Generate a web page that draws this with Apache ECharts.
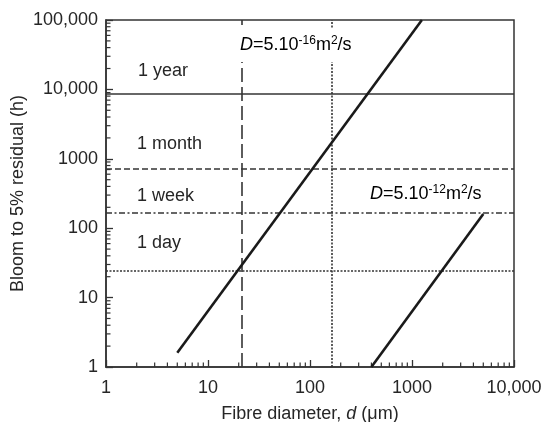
<!DOCTYPE html>
<html><head><meta charset="utf-8">
<script src="https://cdn.jsdelivr.net/npm/echarts@6/dist/echarts.min.js"></script>
<style>html,body{margin:0;padding:0;background:#fff}#c{width:542px;height:422px}</style>
</head><body><div id="c"></div>
<script>
// ---- data ----
const lineLowD = [[5, 1.6], [1250, 100000]];      // D = 5e-16 m2/s
const lineHighD = [[400, 1], [5000, 160]];        // D = 5e-12 m2/s
const refHours = [8760, 720, 168, 24];            // 1 year, 1 month, 1 week, 1 day
const refHourLabels = ['1 year', '1 month', '1 week', '1 day'];
const refDiameters = [21.4, 165];
const xTickValues = [1, 10, 100, 1000, 10000];
const xTickLabels = ['1', '10', '100', '1000', '10,000'];
const yTickValues = [1, 10, 100, 1000, 10000, 100000];
const yTickLabels = ['1', '10', '100', '1000', '10,000', '100,000'];
const minorMults = [2, 3, 4, 5, 6, 7, 8, 9];

const FONT = 'Liberation Sans, Arial, sans-serif';
const TXT = '#262626';
const REF = '#353535';
const FS = 18;

function minorList(decades) {
  const out = [];
  decades.slice(0, -1).forEach(d => minorMults.forEach(m => out.push(d * m)));
  return out;
}
const xMinor = minorList(xTickValues).map(v => [v]);
const yMinor = minorList(yTickValues).map(v => [v]);

const chart = echarts.init(document.getElementById('c'), null, {renderer: 'canvas'});

const hStyles = [
  {type: 'solid'},
  {type: [6, 3]},
  {type: [6, 2.5, 2, 2.5]},
  {type: [2, 1.5]}
];
const vStyles = [{type: [14, 5]}, {type: [2, 1.5]}];

const markData = [];
refHours.forEach((h, i) => markData.push({yAxis: h, lineStyle: Object.assign({color: REF, width: 1.6}, hStyles[i])}));
refDiameters.forEach((d, i) => markData.push({xAxis: d, lineStyle: Object.assign({color: REF, width: 1.6}, vStyles[i])}));

const richD = {
  i: {fontStyle: 'italic', fontSize: FS, fontFamily: FONT, color: TXT},
  n: {fontSize: FS, fontFamily: FONT, color: TXT},
  s: {fontSize: 12, fontFamily: FONT, color: TXT, verticalAlign: 'top', padding: [0, 0, 8, 0]}
};

const option = {
  animation: false,
  backgroundColor: '#fff',
  grid: {left: 106, top: 20, right: 28, bottom: 55, containLabel: false, outerBoundsMode: 'none',
    show: true, borderColor: '#333', borderWidth: 1.5, backgroundColor: 'transparent'},
  xAxis: {
    type: 'log', logBase: 10, min: 1, max: 10000,
    name: '{a|Fibre diameter, }{i|d}{a| (μm)}',
    nameLocation: 'middle', nameGap: 38, nameMoveOverlap: false,
    nameTextStyle: {rich: {a: {fontSize: FS, fontFamily: FONT, color: TXT}, i: {fontSize: FS, fontFamily: FONT, color: TXT, fontStyle: 'italic'}}},
    axisLine: {lineStyle: {color: '#333', width: 1.5}},
    axisTick: {inside: true, length: 7, lineStyle: {color: '#333', width: 1.3}},
    splitLine: {show: false},
    axisLabel: {fontSize: FS, fontFamily: FONT, color: TXT, margin: 12,
      formatter: v => { const i = xTickValues.findIndex(t => Math.abs(t - v) / t < 1e-6); return i >= 0 ? xTickLabels[i] : ''; }}
  },
  yAxis: {
    type: 'log', logBase: 10, min: 1, max: 100000,
    name: 'Bloom to 5% residual (h)',
    nameLocation: 'middle', nameGap: 79, nameMoveOverlap: false,
    nameTextStyle: {fontSize: FS, fontFamily: FONT, color: TXT},
    axisLine: {lineStyle: {color: '#333', width: 1.5}},
    axisTick: {inside: true, length: 7, lineStyle: {color: '#333', width: 1.3}},
    splitLine: {show: false},
    axisLabel: {fontSize: FS, fontFamily: FONT, color: TXT, margin: 8,
      formatter: v => { const i = yTickValues.findIndex(t => Math.abs(t - v) / t < 1e-6); return i >= 0 ? yTickLabels[i] : ''; }}
  },
  series: [
    {
      type: 'line', data: lineLowD, symbol: 'none', z: 5,
      lineStyle: {color: '#1a1a1a', width: 2.6},
      markLine: {silent: true, symbol: 'none', label: {show: false}, animation: false, data: markData}
    },
    {type: 'line', data: lineHighD, symbol: 'none', z: 5, lineStyle: {color: '#1a1a1a', width: 2.6}},
    {
      type: 'custom', data: xMinor, z: 4, silent: true,
      renderItem: (params, api) => {
        const p = api.coord([api.value(0), 1]);
        return {type: 'line', shape: {x1: p[0], y1: p[1], x2: p[0], y2: p[1] - 4.5}, style: {stroke: '#333', lineWidth: 1.2}};
      }
    },
    {
      type: 'custom', data: yMinor, z: 4, silent: true,
      encode: {x: -1, y: 0},
      renderItem: (params, api) => {
        const p = api.coord([1, api.value(0)]);
        return {type: 'line', shape: {x1: p[0], y1: p[1], x2: p[0] + 4.5, y2: p[1]}, style: {stroke: '#333', lineWidth: 1.2}};
      }
    }
  ],
  graphic: [
    {type: 'text', left: 138, top: 62, z: 100, style: {text: refHourLabels[0], font: FS + 'px ' + FONT, fill: TXT}},
    {type: 'text', left: 137, top: 135, z: 100, style: {text: refHourLabels[1], font: FS + 'px ' + FONT, fill: TXT}},
    {type: 'text', left: 137, top: 187, z: 100, style: {text: refHourLabels[2], font: FS + 'px ' + FONT, fill: TXT}},
    {type: 'text', left: 137, top: 234, z: 100, style: {text: refHourLabels[3], font: FS + 'px ' + FONT, fill: TXT}},
    {type: 'text', left: 236, top: 28, z: 100, style: {
      text: '{i|D}{n|=5.10}{s|-16}{n|m}{s|2}{n|/s}', rich: richD,
      backgroundColor: '#fff', padding: [7, 4, 7, 4]}},
    {type: 'text', left: 370, top: 184, z: 100, style: {
      text: '{i|D}{n|=5.10}{s|-12}{n|m}{s|2}{n|/s}', rich: richD}}
  ]
};
chart.setOption(option);
</script></body></html>
